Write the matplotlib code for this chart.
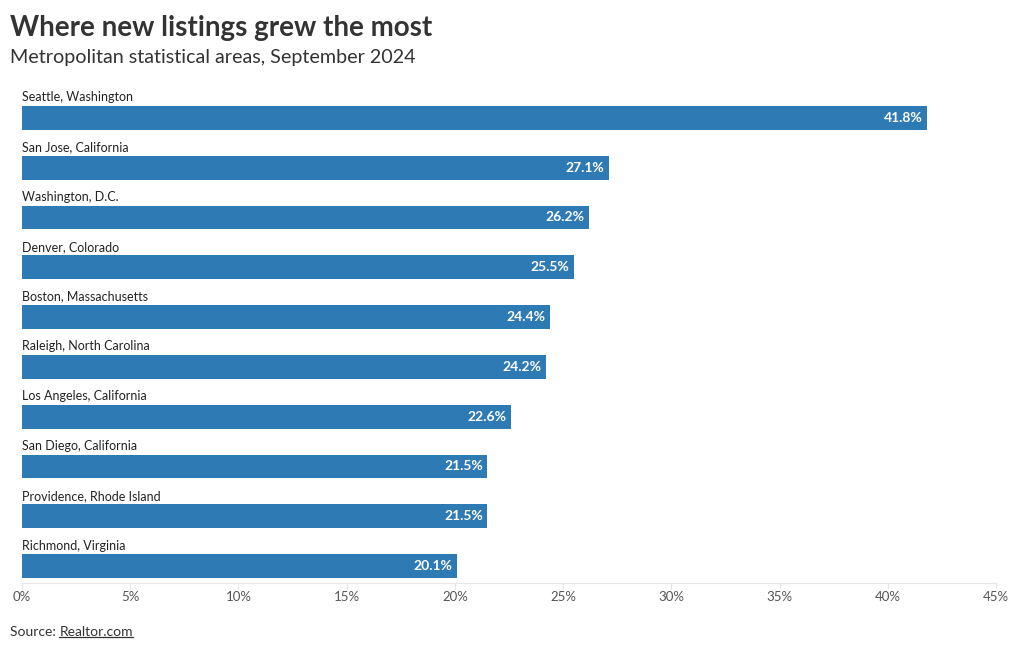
import matplotlib.pyplot as plt
from matplotlib.lines import Line2D

# data
metros = ["Seattle, Washington", "San Jose, California", "Washington, D.C.",
          "Denver, Colorado", "Boston, Massachusetts", "Raleigh, North Carolina",
          "Los Angeles, California", "San Diego, California",
          "Providence, Rhode Island", "Richmond, Virginia"]
growth = [41.8, 27.1, 26.2, 25.5, 24.4, 24.2, 22.6, 21.5, 21.5, 20.1]
ticks = [0, 5, 10, 15, 20, 25, 30, 35, 40, 45]

bar_color = "#2e7ab5"
text_color = "#333333"
plt.rcParams['font.family'] = ['Lato', 'DejaVu Sans']

fig = plt.figure(figsize=(10.2, 6.5), dpi=100)
W, H = 1020, 650
# axes: x 22..996 px, y 90..583 px
ax = fig.add_axes([22 / W, (H - 583) / H, 974 / W, 493 / H])

pos = list(range(len(metros)))
ax.barh(pos, growth, height=0.48, color=bar_color)
for i, (m, v) in enumerate(zip(metros, growth)):
    ax.text(0, i - 0.29, m, ha='left', va='bottom', fontsize=9, color="#222222")
    ax.text(v - 0.2, i, f"{v}%", ha='right', va='center', fontsize=10,
            color='white', fontweight='bold')

ax.set_xlim(0, 45)
ax.set_ylim(9.34, -0.56)
ax.set_xticks(ticks)
ax.set_xticklabels([f"{t}%" for t in ticks])
ax.set_yticks([])
for s in ['top', 'right', 'left']:
    ax.spines[s].set_visible(False)
ax.spines['bottom'].set_color("#e6e6e6")
ax.tick_params(axis='x', colors="#e6e6e6", labelcolor="#555555", labelsize=9.5,
               length=4, width=0.8, pad=2)

fig.text(10 / W, 1 - 28 / H, "Where new listings grew the most", fontsize=20,
         fontweight='bold', color=text_color, va='center', ha='left')
fig.text(10 / W, 1 - 57 / H, "Metropolitan statistical areas, September 2024",
         fontsize=14.2, color=text_color, va='center', ha='left')

src = fig.text(10 / W, 1 - 632 / H, "Source: ", fontsize=10, color=text_color,
               va='center', ha='left')
fig.canvas.draw()
r = fig.canvas.get_renderer()
bb = src.get_window_extent(r)
link = fig.text(bb.x1 / W, 1 - 632 / H, "Realtor.com", fontsize=10, color=text_color,
                va='center', ha='left')
lb = link.get_window_extent(r)
fig.add_artist(Line2D([lb.x0 / W, lb.x1 / W], [(lb.y0 + 1) / H, (lb.y0 + 1) / H],
                      color=text_color, linewidth=0.9, transform=fig.transFigure))

fig.savefig("out.png", dpi=100, facecolor='white')
